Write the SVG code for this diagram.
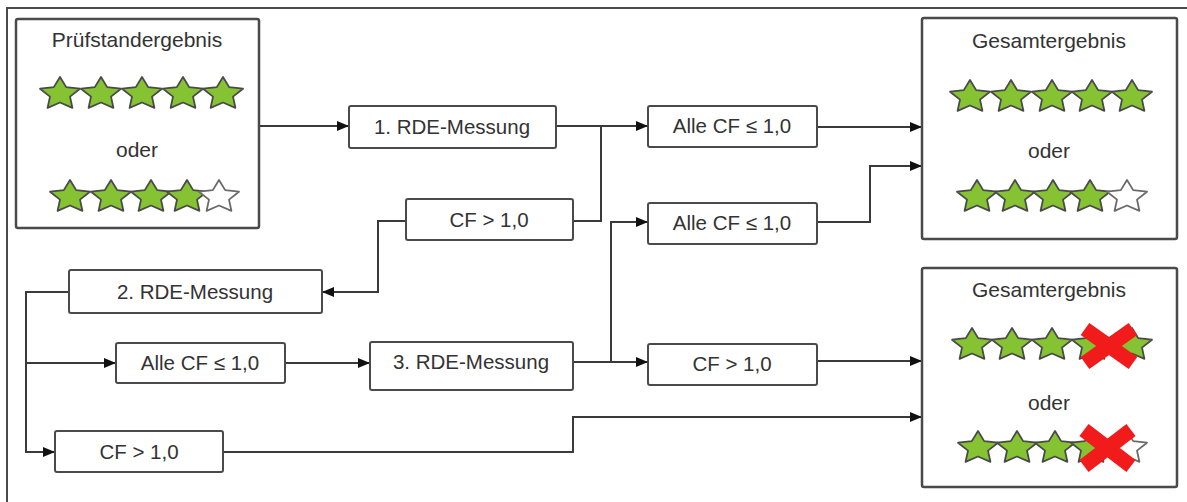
<svg xmlns="http://www.w3.org/2000/svg" xmlns:xlink="http://www.w3.org/1999/xlink" width="1187" height="502" viewBox="0 0 1187 502">
<style>
.box{fill:#fff;stroke:#4a4a4a;stroke-width:2}
.big{fill:#fff;stroke:#4a4a4a;stroke-width:2.5}
.t{font-family:"Liberation Sans",Arial,sans-serif;font-size:20.5px;fill:#333;text-anchor:middle}
.tt{font-family:"Liberation Sans",Arial,sans-serif;font-size:21px;fill:#333;text-anchor:middle}
.c{fill:none;stroke:#3a3a3a;stroke-width:2}
.g{fill:#86c332;stroke:#4a4a4a;stroke-width:1.8;stroke-linejoin:round}
.w{fill:#fff;stroke:#6a6a6a;stroke-width:1.8;stroke-linejoin:round}
.x{stroke:#f21b1b;stroke-width:15;stroke-linecap:butt}
</style>
<defs>
<marker id="ah" viewBox="0 0 12 10" refX="12" refY="5" markerWidth="12" markerHeight="10" markerUnits="userSpaceOnUse" orient="auto">
<path d="M0,0 L12,5 L0,10 Z" fill="#111"/>
</marker>
<path id="star" d="M0,-17 L6.2,-6.9 L20,-5.3 L10,2.6 L12.4,13.8 L0,8.5 L-12.4,13.8 L-10,2.6 L-20,-5.3 L-6.2,-6.9 Z"/>
</defs>
<rect width="1187" height="502" fill="#fff"/>
<path d="M7,502 V8 H1187" fill="none" stroke="#4a4a4a" stroke-width="2"/>

<g id="connectors">
<path class="c" d="M259,126 H349" marker-end="url(#ah)"/>
<path class="c" d="M556,126 H648" marker-end="url(#ah)"/>
<path class="c" d="M601,126 V221 H573"/>
<path class="c" d="M406,221 H378 V292 H322" marker-end="url(#ah)"/>
<path class="c" d="M69,292 H26 V452 H55" marker-end="url(#ah)"/>
<path class="c" d="M26,363 H116" marker-end="url(#ah)"/>
<path class="c" d="M285,363 H370" marker-end="url(#ah)"/>
<path class="c" d="M573,362 H648" marker-end="url(#ah)"/>
<path class="c" d="M611,362 V222 H648" marker-end="url(#ah)"/>
<path class="c" d="M817,127 H922" marker-end="url(#ah)"/>
<path class="c" d="M817,222 H870 V166 H922" marker-end="url(#ah)"/>
<path class="c" d="M817,361 H922" marker-end="url(#ah)"/>
<path class="c" d="M223,452 H573 V417 H922" marker-end="url(#ah)"/>
</g>

<g id="pruefstand">
<rect class="big" x="16" y="19" width="243" height="209" rx="2"/>
<text class="tt" x="137" y="47">Prüfstandergebnis</text>
<use href="#star" class="g" x="60" y="94"/>
<use href="#star" class="g" x="101" y="94"/>
<use href="#star" class="g" x="142" y="94"/>
<use href="#star" class="g" x="183" y="94"/>
<use href="#star" class="g" x="223" y="94"/>
<text class="tt" x="137" y="157">oder</text>
<use href="#star" class="g" x="70" y="197"/>
<use href="#star" class="g" x="111" y="197"/>
<use href="#star" class="g" x="151" y="197"/>
<use href="#star" class="g" x="187" y="197"/>
<use href="#star" class="w" x="219" y="197"/>
</g>

<g id="rde1">
<rect class="box" x="349" y="106" width="207" height="42" rx="2"/>
<text class="t" x="452" y="134">1. RDE-Messung</text>
</g>
<g id="cf-upper">
<rect class="box" x="406" y="199" width="167" height="41" rx="2"/>
<text class="t" x="489" y="227">CF &gt; 1,0</text>
</g>
<g id="rde2">
<rect class="box" x="69" y="270" width="253" height="43" rx="2"/>
<text class="t" x="195" y="299">2. RDE-Messung</text>
</g>
<g id="alle-left">
<rect class="box" x="116" y="343" width="169" height="40" rx="2"/>
<text class="t" x="200" y="370">Alle CF ≤ 1,0</text>
</g>
<g id="cf-left">
<rect class="box" x="55" y="431" width="168" height="41" rx="2"/>
<text class="t" x="139" y="459">CF &gt; 1,0</text>
</g>
<g id="rde3">
<rect class="box" x="370" y="342" width="203" height="48" rx="2"/>
<text class="t" x="471" y="369">3. RDE-Messung</text>
</g>
<g id="alle-top">
<rect class="box" x="648" y="106" width="169" height="41" rx="2"/>
<text class="t" x="732" y="133">Alle CF ≤ 1,0</text>
</g>
<g id="alle-mid">
<rect class="box" x="648" y="203" width="169" height="41" rx="2"/>
<text class="t" x="732" y="230">Alle CF ≤ 1,0</text>
</g>
<g id="cf-lower">
<rect class="box" x="648" y="344" width="169" height="41" rx="2"/>
<text class="t" x="732" y="371">CF &gt; 1,0</text>
</g>

<g id="gesamt-top">
<rect class="big" x="922" y="18" width="255" height="221" rx="2"/>
<text class="tt" x="1049" y="48">Gesamtergebnis</text>
<use href="#star" class="g" x="970" y="97"/>
<use href="#star" class="g" x="1011" y="97"/>
<use href="#star" class="g" x="1052" y="97"/>
<use href="#star" class="g" x="1092" y="97"/>
<use href="#star" class="g" x="1132" y="97"/>
<text class="tt" x="1049" y="158">oder</text>
<use href="#star" class="g" x="977" y="197"/>
<use href="#star" class="g" x="1015" y="197"/>
<use href="#star" class="g" x="1053" y="197"/>
<use href="#star" class="g" x="1090" y="197"/>
<use href="#star" class="w" x="1127" y="197"/>
</g>

<g id="gesamt-bottom">
<rect class="big" x="922" y="268" width="255" height="219" rx="2"/>
<text class="tt" x="1049" y="297">Gesamtergebnis</text>
<use href="#star" class="g" x="972" y="345"/>
<use href="#star" class="g" x="1012" y="345"/>
<use href="#star" class="g" x="1052" y="345"/>
<use href="#star" class="g" x="1092" y="345"/>
<use href="#star" class="g" x="1132" y="345"/>
<path class="x" d="M1085,329 L1133,363 M1133,329 L1085,363"/>
<text class="tt" x="1049" y="410">oder</text>
<use href="#star" class="g" x="978" y="448"/>
<use href="#star" class="g" x="1017" y="448"/>
<use href="#star" class="g" x="1055" y="448"/>
<use href="#star" class="g" x="1091" y="448"/>
<use href="#star" class="w" x="1127" y="448"/>
<path class="x" d="M1084,430 L1131,466 M1131,430 L1084,466"/>
</g>
</svg>
